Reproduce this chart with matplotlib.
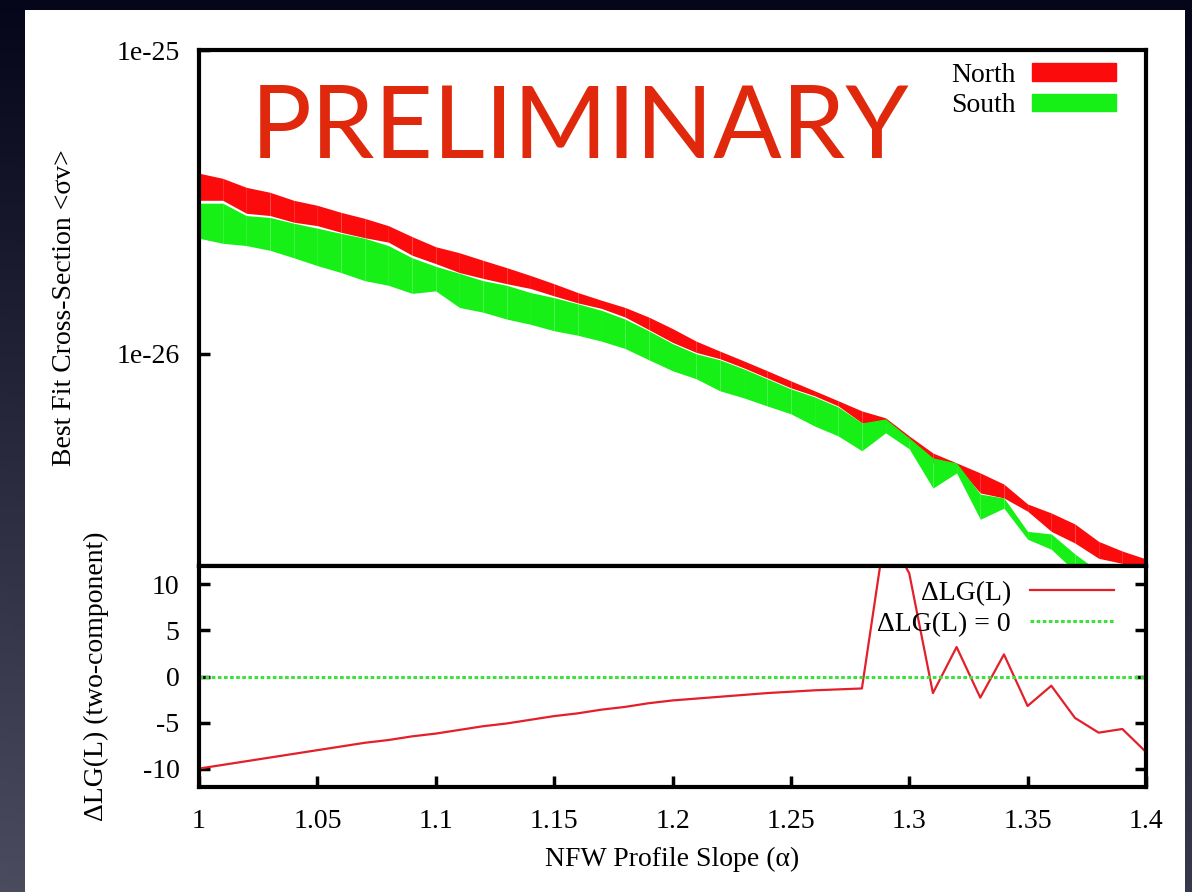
import numpy as np
import matplotlib
matplotlib.use('Agg')
import matplotlib.pyplot as plt
from matplotlib.patches import Rectangle
from matplotlib.ticker import NullLocator

# NFW inner slope grid
slope = [1.00, 1.01, 1.02, 1.03, 1.04, 1.05, 1.06, 1.07, 1.08, 1.09,
         1.10, 1.11, 1.12, 1.13, 1.14, 1.15, 1.16, 1.17, 1.18, 1.19,
         1.20, 1.21, 1.22, 1.23, 1.24, 1.25, 1.26, 1.27, 1.28, 1.29,
         1.30, 1.31, 1.32, 1.33, 1.34, 1.35, 1.36, 1.37, 1.38, 1.39, 1.40]

# best-fit <sigma v> bands, in units of 1e-27 cm^3/s
north_hi = [39.3, 37.8, 35.3, 34.0, 32.0, 30.8, 29.2, 27.9, 26.4, 24.3,
            22.5, 21.5, 20.3, 19.2, 18.1, 17.0, 15.9, 15.0, 14.2, 13.2,
            12.1, 11.0, 10.2, 9.48, 8.79, 8.14, 7.55, 7.00, 6.48, 6.15,
            5.36, 4.71, 4.37, 4.05, 3.72, 3.20, 2.99, 2.75, 2.41, 2.24, 2.11]
north_lo = [32.0, 32.0, 29.0, 28.5, 27.1, 26.4, 25.1, 24.1, 23.3, 21.1,
            19.8, 18.5, 17.7, 17.0, 16.4, 15.5, 14.7, 14.1, 13.2, 12.0,
            10.9, 10.1, 9.63, 8.99, 8.33, 7.72, 7.27, 6.73, 5.92, 5.87,
            5.16, 4.37, 4.27, 3.48, 3.35, 3.03, 2.60, 2.38, 2.12, 2.04, 1.92]
south_hi = [31.3, 31.3, 28.5, 28.1, 26.9, 25.9, 24.9, 24.0, 22.7, 20.7,
            19.4, 18.4, 17.4, 16.8, 15.9, 15.3, 14.6, 13.9, 13.0, 11.9,
            10.8, 10.0, 9.55, 8.92, 8.27, 7.66, 7.21, 6.68, 5.92, 6.10,
            5.28, 4.54, 4.37, 3.45, 3.35, 2.60, 2.55, 2.19, 1.92, 1.78, 1.70]
south_lo = [24.0, 23.1, 22.7, 21.9, 20.7, 19.5, 18.5, 17.4, 16.8, 15.8,
            16.1, 14.2, 13.7, 13.0, 12.5, 11.9, 11.5, 11.0, 10.4, 9.55,
            8.79, 8.27, 7.55, 7.16, 6.73, 6.34, 5.78, 5.36, 4.79, 5.49,
            4.86, 3.61, 4.05, 2.85, 3.10, 2.45, 2.27, 1.92, 1.71, 1.62, 1.55]

# two-component log-likelihood difference
dlg = [-10.0, -9.6, -9.2, -8.8, -8.4, -8.0, -7.6, -7.2, -6.9, -6.5,
       -6.2, -5.8, -5.4, -5.1, -4.7, -4.3, -4.0, -3.6, -3.3, -2.9,
       -2.6, -2.4, -2.2, -2.0, -1.8, -1.65, -1.5, -1.4, -1.3, 16.0,
       11.2, -1.8, 3.2, -2.3, 2.4, -3.2, -1.0, -4.5, -6.1, -5.7, -8.2]

x_ticks = [1, 1.05, 1.1, 1.15, 1.2, 1.25, 1.3, 1.35, 1.4]
x_ticklabels = ['1', '1.05', '1.1', '1.15', '1.2', '1.25', '1.3', '1.35', '1.4']
dlg_ticks = [-10, -5, 0, 5, 10]

serif = 'Liberation Serif'
fs = 20
red = '#fb0b0b'
green = '#16f016'

x = np.array(slope)
unit = 1e-27

fig = plt.figure(figsize=(11.92, 8.92), dpi=100)

# slide background and white card
bg = fig.add_axes([0, 0, 1, 1], zorder=-5)
gy, gx = np.mgrid[0:1:200j, 0:1:200j]
shade = np.clip(0.65 * gy + 0.25 * (1 - gx) * gy, 0, 1)
top_c = np.array([6, 6, 26]) / 255
bot_c = np.array([82, 84, 102]) / 255
img = top_c + shade[..., None] * (bot_c - top_c)
bg.imshow(img, extent=[0, 1, 0, 1], aspect='auto', origin='upper')
bg.add_patch(Rectangle((25 / 1192, 0), 1160 / 1192, 882 / 892,
                       transform=fig.transFigure, color='white', lw=0))
bg.set_axis_off()

L, W = 199 / 1192, 947 / 1192
ax1 = fig.add_axes([L, 1 - 566 / 892, W, 516 / 892])
ax2 = fig.add_axes([L, 1 - 787 / 892, W, 221 / 892])

# upper panel: bands drawn strip by strip
for lo, hi, c in [(north_lo, north_hi, red), (south_lo, south_hi, green)]:
    lo = np.array(lo) * unit
    hi = np.array(hi) * unit
    for i in range(len(x) - 1):
        ax1.fill_between(x[i:i + 2], lo[i:i + 2], hi[i:i + 2], color=c, lw=0)

ax1.set_yscale('log')
ax1.set_xlim(1, 1.4)
ax1.set_ylim(2e-27, 1e-25)
ax1.set_yticks([1e-26, 1e-25], labels=['1e-26', '1e-25'])
ax1.yaxis.set_minor_locator(NullLocator())
ax1.set_xticks([])
ax1.tick_params(axis='y', direction='in', length=8, width=2.5, pad=14,
                labelsize=fs)
for lab in ax1.get_yticklabels():
    lab.set_family(serif)
ax1.set_ylabel('Best Fit Cross-Section <σv>', family=serif, fontsize=fs,
               labelpad=28)

h_north = Rectangle((0, 0), 1, 1, color=red)
h_south = Rectangle((0, 0), 1, 1, color=green)
ax1.legend([h_north, h_south], ['North', 'South'], loc='upper right',
           bbox_to_anchor=(0.968, 0.975), frameon=False, markerfirst=False,
           prop={'family': serif, 'size': 20}, handlelength=3.0,
           handleheight=0.6, handletextpad=0.6, labelspacing=0.2,
           borderpad=0, borderaxespad=0)

ax1.text(0.055, 0.79, 'PRELIMINARY', transform=ax1.transAxes,
         family=['Lato', 'DejaVu Sans'], fontsize=73, color='#e0280c',
         ha='left', va='baseline')

# lower panel: likelihood difference
ax2.plot(x, dlg, color='#e3202a', lw=1.6, label='ΔLG(L)')
ax2.axhline(0, color='#3ee03e', lw=2.2, ls=(0, (1.2, 0.8)),
            label='ΔLG(L) = 0')
ax2.set_xlim(1, 1.4)
ax2.set_ylim(-12, 12)
ax2.set_yticks(dlg_ticks, labels=[str(t) for t in dlg_ticks])
ax2.set_xticks(x_ticks, labels=x_ticklabels)
ax2.tick_params(axis='both', direction='in', length=8, width=2.5,
                labelsize=fs)
ax2.tick_params(axis='y', right=True, pad=14)
ax2.tick_params(axis='x', pad=16)
for lab in ax2.get_xticklabels() + ax2.get_yticklabels():
    lab.set_family(serif)
ax2.set_ylabel('ΔLG(L) (two-component)', family=serif, fontsize=fs,
               labelpad=24)
ax2.set_xlabel('NFW Profile Slope (α)', family=serif, fontsize=fs,
               labelpad=9)
ax2.legend(loc='upper right', bbox_to_anchor=(0.966, 0.935), frameon=False,
           markerfirst=False, prop={'family': serif, 'size': 20},
           handlelength=3.0, handletextpad=0.7, labelspacing=0.2,
           borderpad=0, borderaxespad=0)

for ax in (ax1, ax2):
    for s in ax.spines.values():
        s.set_linewidth(3)
        s.set_color('black')

fig.savefig('out.png', dpi=100)
